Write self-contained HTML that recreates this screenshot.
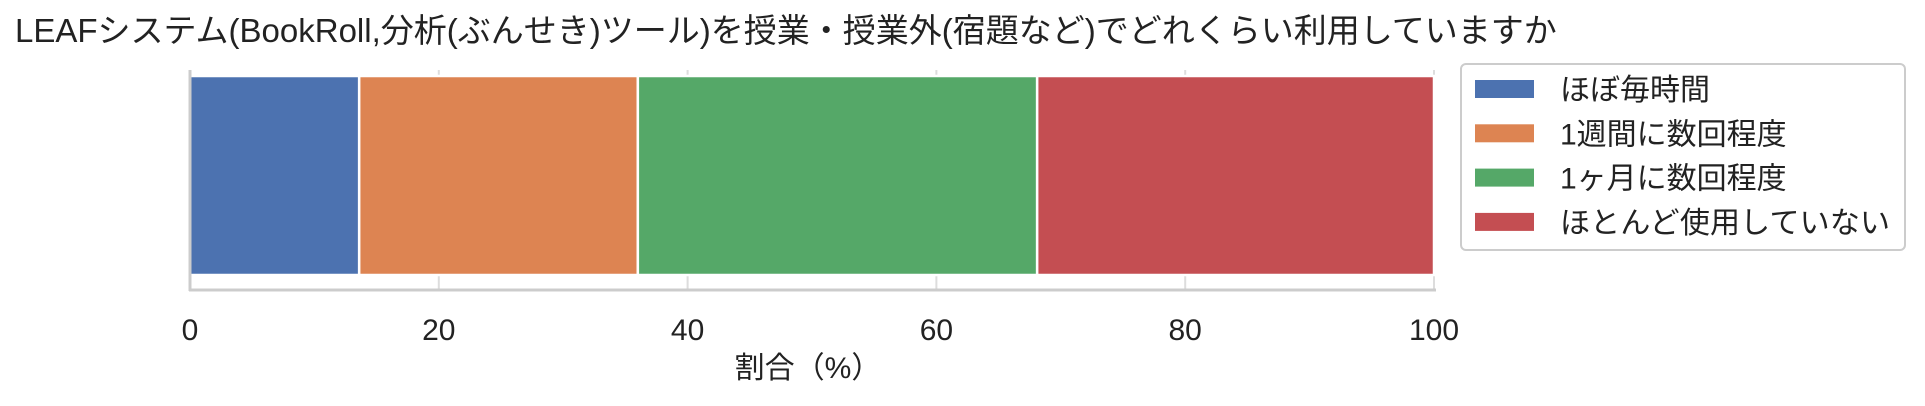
<!DOCTYPE html>
<html><head><meta charset="utf-8"><style>
body{margin:0;background:#fff;}
svg{display:block;font-family:"Liberation Sans","Noto Sans CJK JP",sans-serif;}
</style></head><body>
<svg id="chart" width="1925" height="406" viewBox="0 0 1925 406">
<text x="15" y="42" font-size="33" fill="#222">LEAFシステム(BookRoll,分析(ぶんせき)ツール)を授業・授業外(宿題など)でどれくらい利用していますか</text>
<g id="grid"></g>
<g id="bars"></g>
<line x1="190" y1="70" x2="190" y2="291" stroke="#ccc" stroke-width="3"/>
<line x1="189" y1="290" x2="1436" y2="290" stroke="#ccc" stroke-width="3"/>
<g id="ticks"></g>
<text x="808" y="378" font-size="30" fill="#222" text-anchor="middle">割合（%）</text>
<rect x="1461" y="64" width="444" height="186" rx="5" fill="#fff" stroke="#ccc" stroke-width="2"/>
<g id="legend"></g>
</svg>
<script>
const categories = ["ほぼ毎時間","1週間に数回程度","1ヶ月に数回程度","ほとんど使用していない"];
const values = [13.6, 22.4, 32.1, 31.9];
const tickLabels = [0,20,40,60,80,100];
const colors = ["#4c72b0","#dd8452","#55a868","#c44e52"];
const NS="http://www.w3.org/2000/svg";
const x0=190,x1=1434;
function xs(v){return x0+(x1-x0)*v/100;}
function mk(tag,attrs,parent){const e=document.createElementNS(NS,tag);for(const k in attrs)e.setAttribute(k,attrs[k]);parent.appendChild(e);return e;}
const grid=document.getElementById('grid'),ticks=document.getElementById('ticks');
tickLabels.forEach(t=>{
  const l=mk('line',{x1:xs(t),x2:xs(t),y1:70,y2:290,stroke:'#ddd','stroke-width':2},grid);
  
  
  const tx=mk('text',{x:xs(t),y:340,'font-size':30,fill:'#222','text-anchor':'middle'},ticks);
  tx.textContent=t;
  
  
});
const bars=document.getElementById('bars');
let cum=0;
values.forEach((v,i)=>{
  const r=mk('rect',{x:xs(cum),y:76,width:xs(cum+v)-xs(cum),height:199,fill:colors[i],stroke:'#fff','stroke-width':2.5},bars);
  
  
  cum+=v;
});
const lg=document.getElementById('legend');
categories.forEach((c,i)=>{
  const y=89+i*44.3;
  const p=mk('rect',{x:1475,y:y-9,width:59,height:18,fill:colors[i]},lg);
  
  
  const t=mk('text',{x:1560,y:y+11,'font-size':30,fill:'#222',textLength:c.length>8?330:null},lg);
  if(!t.getAttribute('textLength')||t.getAttribute('textLength')==='null')t.removeAttribute('textLength');
  t.textContent=c;
  
  
});
</script>
</body></html>
